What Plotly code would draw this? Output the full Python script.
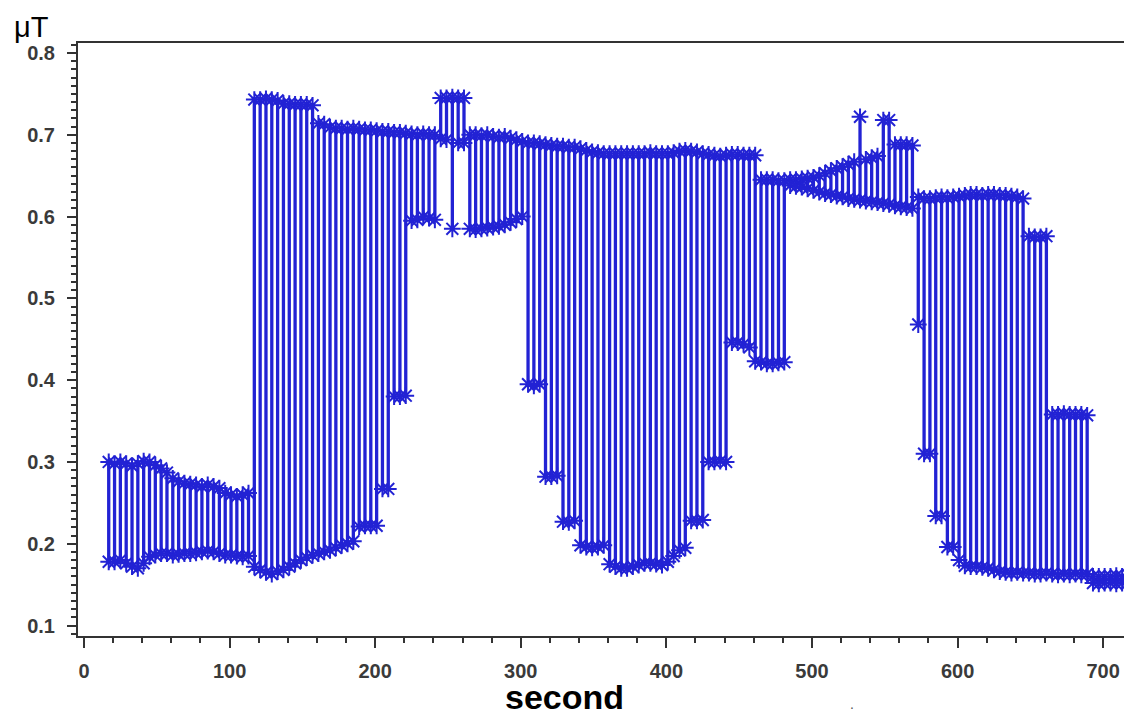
import plotly.graph_objects as go

# time axis (s) – one high/low bar every 4 s
seconds = list(range(17, 720, 4))

high = [
    # 17-113
    0.300, 0.298, 0.300, 0.298, 0.295, 0.298, 0.301, 0.300, 0.296, 0.292, 0.287, 0.280, 0.276,
    0.274, 0.273, 0.272, 0.270, 0.272, 0.270, 0.268, 0.262, 0.260, 0.258, 0.260, 0.262,
    # 117-157
    0.743, 0.743, 0.744, 0.743, 0.742, 0.738, 0.738, 0.737, 0.737, 0.737, 0.736,
    # 161-197
    0.714, 0.713, 0.709, 0.708, 0.708, 0.707, 0.708, 0.707, 0.706, 0.706,
    # 201-241
    0.705, 0.704, 0.704, 0.703, 0.703, 0.702, 0.701, 0.700, 0.701, 0.700, 0.700,
    # 245-261
    0.745, 0.745, 0.746, 0.745, 0.745,
    # 265-301
    0.700, 0.700, 0.699, 0.700, 0.698, 0.697, 0.698, 0.696, 0.694, 0.692,
    # 305-353
    0.690, 0.690, 0.689, 0.688, 0.687, 0.686, 0.686, 0.685, 0.685, 0.683, 0.681, 0.679, 0.678,
    # 357-409
    0.677, 0.677, 0.677, 0.677, 0.677, 0.677, 0.677, 0.677, 0.678, 0.677, 0.677, 0.677, 0.678, 0.680,
    # 413-461
    0.681, 0.680, 0.679, 0.677, 0.676, 0.675, 0.674, 0.675, 0.676, 0.676, 0.675, 0.675, 0.675,
    # 465-481
    0.645, 0.645, 0.645, 0.644, 0.644,
    # 485-569
    0.645, 0.645, 0.646, 0.647, 0.648, 0.650, 0.653, 0.656, 0.659, 0.661, 0.664, 0.667, 0.722,
    0.670, 0.672, 0.674, 0.718, 0.718, 0.688, 0.688, 0.688, 0.687,
    # 573-645
    0.624, 0.622, 0.622, 0.623, 0.624, 0.623, 0.624, 0.625, 0.626, 0.627, 0.627, 0.626, 0.627,
    0.627, 0.626, 0.626, 0.625, 0.624, 0.622,
    # 649-661
    0.576, 0.575, 0.575, 0.576,
    # 665-689
    0.358, 0.358, 0.359, 0.358, 0.358, 0.358, 0.357,
    # 693-717
    0.160, 0.160, 0.160, 0.160, 0.161, 0.160, 0.162,
]

low = [
    # 17-113
    0.178, 0.178, 0.180, 0.176, 0.172, 0.170, 0.176, 0.184, 0.186, 0.188, 0.188, 0.186, 0.187,
    0.188, 0.188, 0.189, 0.190, 0.191, 0.190, 0.188, 0.186, 0.186, 0.185, 0.184, 0.185,
    # 117-157
    0.172, 0.168, 0.165, 0.163, 0.166, 0.168, 0.172, 0.176, 0.180, 0.183, 0.186,
    # 161-197
    0.188, 0.190, 0.192, 0.195, 0.198, 0.200, 0.203, 0.221, 0.222, 0.222,
    # 201-241
    0.222, 0.267, 0.267, 0.380, 0.380, 0.381, 0.595, 0.596, 0.600, 0.598, 0.596,
    # 245-261
    0.695, 0.694, 0.585, 0.690, 0.690,
    # 265-301
    0.585, 0.584, 0.585, 0.586, 0.587, 0.588, 0.590, 0.593, 0.597, 0.600,
    # 305-353
    0.395, 0.393, 0.395, 0.282, 0.282, 0.283, 0.227, 0.226, 0.228, 0.198, 0.196, 0.195, 0.196,
    # 357-409
    0.198, 0.175, 0.172, 0.170, 0.170, 0.172, 0.174, 0.176, 0.176, 0.175, 0.174, 0.178, 0.185, 0.192,
    # 413-461
    0.195, 0.228, 0.228, 0.229, 0.300, 0.300, 0.301, 0.300, 0.446, 0.446, 0.444, 0.440, 0.423,
    # 465-481
    0.422, 0.420, 0.420, 0.421, 0.422,
    # 485-569
    0.638, 0.637, 0.636, 0.634, 0.632, 0.630, 0.628, 0.627, 0.625, 0.624, 0.622, 0.621, 0.620,
    0.619, 0.618, 0.617, 0.616, 0.615, 0.613, 0.612, 0.611, 0.610,
    # 573-645
    0.468, 0.310, 0.310, 0.234, 0.234, 0.196, 0.196, 0.180, 0.173, 0.172, 0.172, 0.171, 0.170,
    0.168, 0.166, 0.165, 0.164, 0.165, 0.164,
    # 649-661
    0.164, 0.163, 0.163, 0.164,
    # 665-689
    0.163, 0.162, 0.163, 0.162, 0.163, 0.162, 0.163,
    # 693-717
    0.152, 0.151, 0.152, 0.152, 0.151, 0.152, 0.152,
]

x_ticks = [0, 100, 200, 300, 400, 500, 600, 700]
y_ticks = [0.1, 0.2, 0.3, 0.4, 0.5, 0.6, 0.7, 0.8]

BLUE = "#2222d4"

bx, by = [], []
for t, h, l in zip(seconds, high, low):
    bx += [t, t, None]
    by += [l, h, None]

fig = go.Figure()
fig.add_trace(go.Scatter(x=bx, y=by, mode="lines",
                         line=dict(color=BLUE, width=3.3),
                         hoverinfo="skip", showlegend=False))
for series in (high, low):
    fig.add_trace(go.Scatter(x=seconds, y=series, mode="markers",
                             marker=dict(symbol="asterisk-open", size=14, color=BLUE,
                                         line=dict(color=BLUE, width=2)),
                             showlegend=False))

AX = "#333333"
TICKFONT = dict(size=20, color="#3a3a3a", weight="bold")
# page body adds an 8 px offset, so the figure is sized/margined to compensate
fig.update_layout(
    width=1124, height=710,
    margin=dict(l=70, r=0, t=35, b=82),
    paper_bgcolor="white", plot_bgcolor="white",
    font=dict(family="Liberation Sans, Arial, sans-serif", color="#333333"),
    xaxis=dict(range=[-4.1, 719.8], tickvals=x_ticks, showgrid=False, zeroline=False,
               automargin=False,
               showline=True, linecolor=AX, linewidth=2, mirror=True,
               ticks="outside", ticklen=10, tickwidth=2, tickcolor=AX,
               minor=dict(dtick=20, tick0=0, ticks="outside", ticklen=5, tickwidth=1.5, tickcolor=AX),
               tickfont=TICKFONT, ticklabelstandoff=6),
    yaxis=dict(range=[0.0872, 0.8122], tickvals=y_ticks, showgrid=False, zeroline=False,
               automargin=False,
               showline=True, linecolor=AX, linewidth=2,
               ticks="outside", ticklen=9, tickwidth=2, tickcolor=AX,
               minor=dict(dtick=0.01, tick0=0, ticks="outside", ticklen=5, tickwidth=1.5, tickcolor=AX),
               tickfont=TICKFONT, ticklabelstandoff=8),
    annotations=[
        dict(text="μT", xref="paper", yref="paper", x=-0.063, y=1.058,
             xanchor="left", yanchor="top", showarrow=False,
             font=dict(size=29, color="black")),
        dict(text="<b>second</b>", xref="paper", yref="paper", x=0.462, y=-0.103,
             xanchor="center", yanchor="middle", showarrow=False,
             font=dict(size=34, color="black")),
        dict(text=".", xref="paper", yref="paper", x=0.734, y=-0.115,
             xanchor="center", yanchor="middle", showarrow=False,
             font=dict(size=14, color="#555")),
    ],
)

fig.write_html("out.html")
